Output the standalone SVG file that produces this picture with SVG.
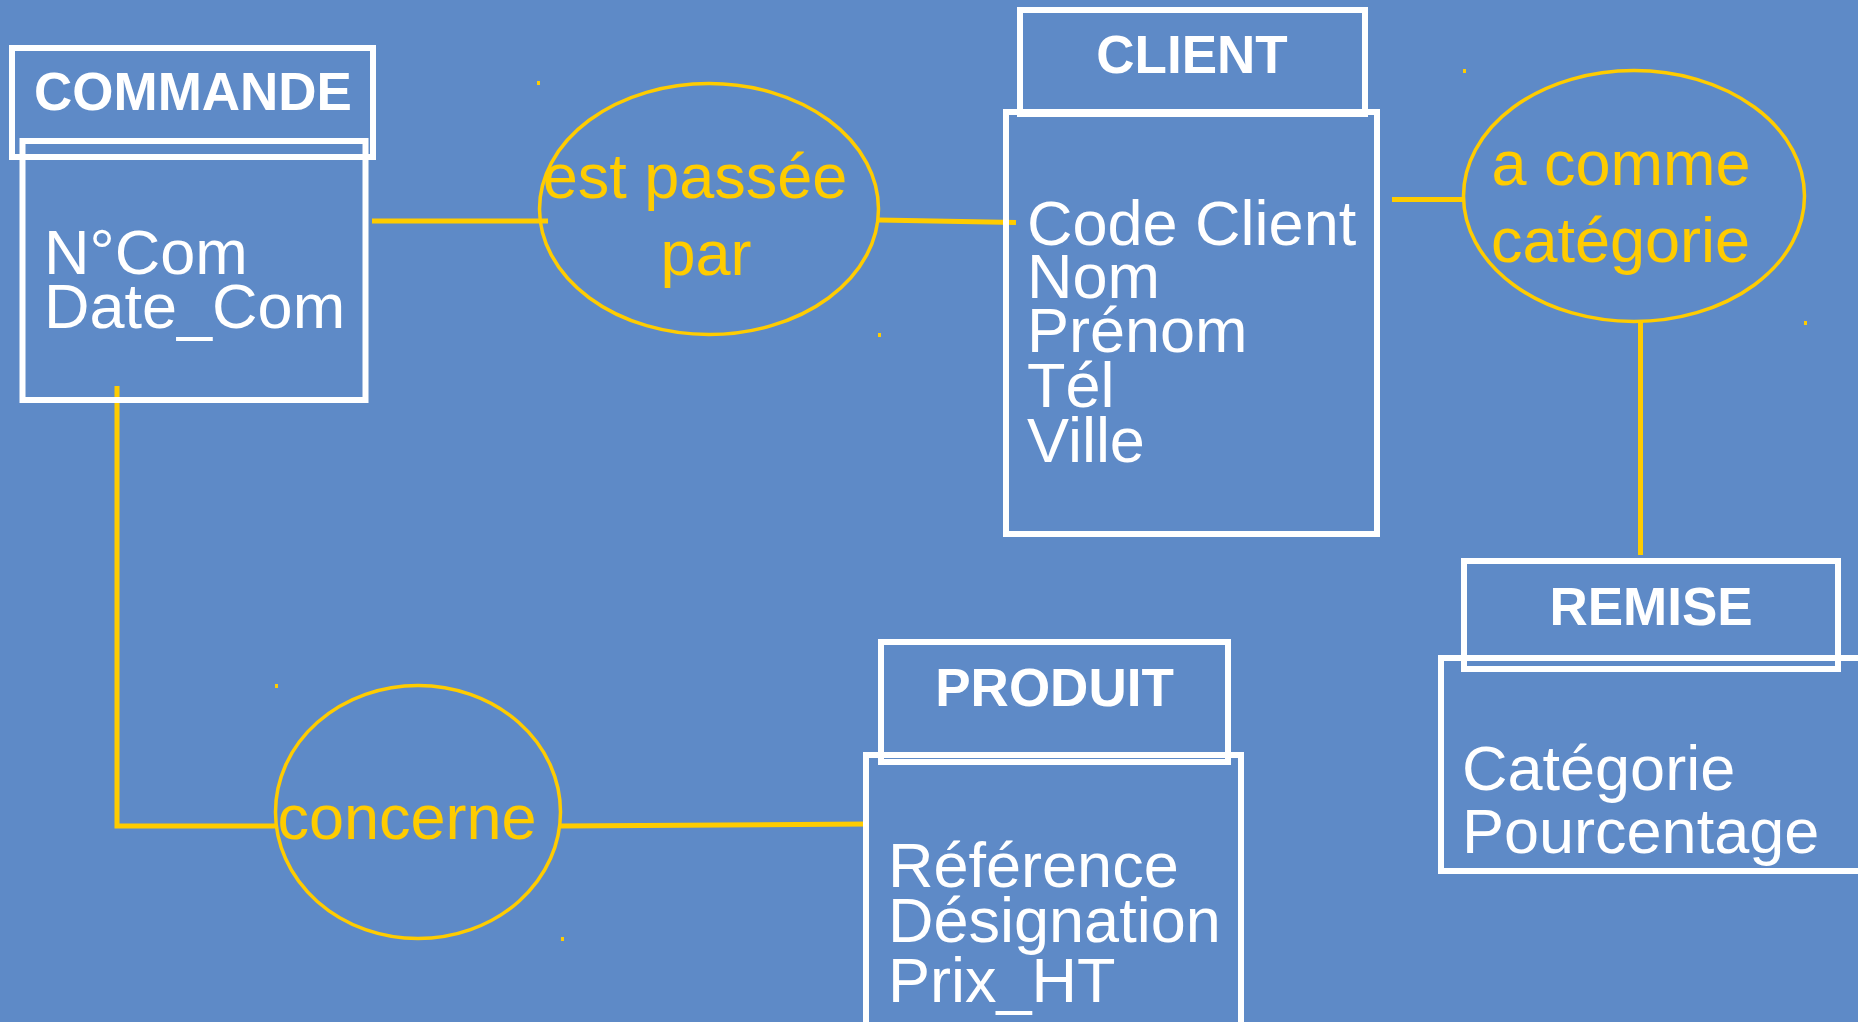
<svg xmlns="http://www.w3.org/2000/svg" width="1858" height="1022" viewBox="0 0 1858 1022">
  <style>
    .box { fill: none; stroke: #FFFFFF; stroke-width: 6; }
    .rel { fill: none; stroke: #FFCC00; stroke-width: 3.5; }
    .con { fill: none; stroke: #FFCC00; stroke-width: 5; }
    .title { font-family: "Liberation Sans", Arial, sans-serif; font-weight: bold; font-size: 53px; fill: #FFFFFF; text-anchor: middle; }
    .attr { font-family: "Liberation Sans", Arial, sans-serif; font-size: 63px; fill: #FFFFFF; }
    .rtxt { font-family: "Liberation Sans", Arial, sans-serif; font-size: 63px; fill: #FFCC00; text-anchor: middle; }
    .dot { fill: #FFCC00; }
  </style>
  <rect x="0" y="0" width="1858" height="1022" fill="#5E8AC7"/>

  <g id="connectors">
    <line class="con" x1="372" y1="221" x2="548" y2="221"/>
    <line class="con" x1="879" y1="220" x2="1016" y2="222.5"/>
    <line class="con" x1="1392" y1="199.5" x2="1465" y2="199.5"/>
    <line class="con" x1="1640.5" y1="322" x2="1640.5" y2="555"/>
    <polyline class="con" points="117,386 117,826 276,826"/>
    <line class="con" x1="561" y1="826" x2="869" y2="824" stroke-width="6"/>
  </g>

  <g id="commande">
    <rect class="box" x="12" y="48" width="361" height="109"/>
    <rect class="box" x="22.5" y="141" width="343" height="259"/>
    <text class="title" x="193" y="110">COMMANDE</text>
    <text class="attr" x="44" y="274">N°Com</text>
    <text class="attr" x="44" y="328">Date_Com</text>
  </g>

  <g id="client">
    <rect class="box" x="1020" y="10" width="345" height="104"/>
    <rect class="box" x="1006" y="112" width="371" height="422"/>
    <text class="title" x="1192" y="73">CLIENT</text>
    <text class="attr" x="1027" y="245">Code Client</text>
    <text class="attr" x="1027" y="298">Nom</text>
    <text class="attr" x="1027" y="352">Prénom</text>
    <text class="attr" x="1027" y="407">Tél</text>
    <text class="attr" x="1027" y="462">Ville</text>
  </g>

  <g id="remise">
    <rect class="box" x="1464" y="561" width="374" height="108"/>
    <rect class="box" x="1441" y="658" width="500" height="213"/>
    <text class="title" x="1651" y="625">REMISE</text>
    <text class="attr" x="1462" y="790">Catégorie</text>
    <text class="attr" x="1462" y="853">Pourcentage</text>
  </g>

  <g id="produit">
    <rect class="box" x="881" y="642" width="347" height="120"/>
    <rect class="box" x="866" y="755" width="375" height="320"/>
    <text class="title" x="1054.5" y="706">PRODUIT</text>
    <text class="attr" x="888" y="887">Référence</text>
    <text class="attr" x="888" y="942">Désignation</text>
    <text class="attr" x="888" y="1002">Prix_HT</text>
  </g>

  <g id="est-passee-par">
    <ellipse class="rel" cx="709" cy="209" rx="169.5" ry="125.5"/>
    <text class="rtxt" x="695" y="198">est passée</text>
    <text class="rtxt" x="706" y="275">par</text>
    <rect class="dot" x="537" y="81" width="3" height="4"/>
    <rect class="dot" x="878" y="333" width="3" height="4"/>
  </g>

  <g id="a-comme-categorie">
    <ellipse class="rel" cx="1634" cy="196" rx="170.5" ry="125.5"/>
    <text class="rtxt" x="1621" y="185">a comme</text>
    <text class="rtxt" x="1620.5" y="262">catégorie</text>
    <rect class="dot" x="1463" y="69" width="3" height="4"/>
    <rect class="dot" x="1804" y="321" width="3" height="4"/>
  </g>

  <g id="concerne">
    <ellipse class="rel" cx="418" cy="812" rx="142.5" ry="126.5"/>
    <text class="rtxt" x="407" y="839">concerne</text>
    <rect class="dot" x="275" y="684" width="3" height="4"/>
    <rect class="dot" x="561" y="937" width="3" height="4"/>
  </g>
</svg>
